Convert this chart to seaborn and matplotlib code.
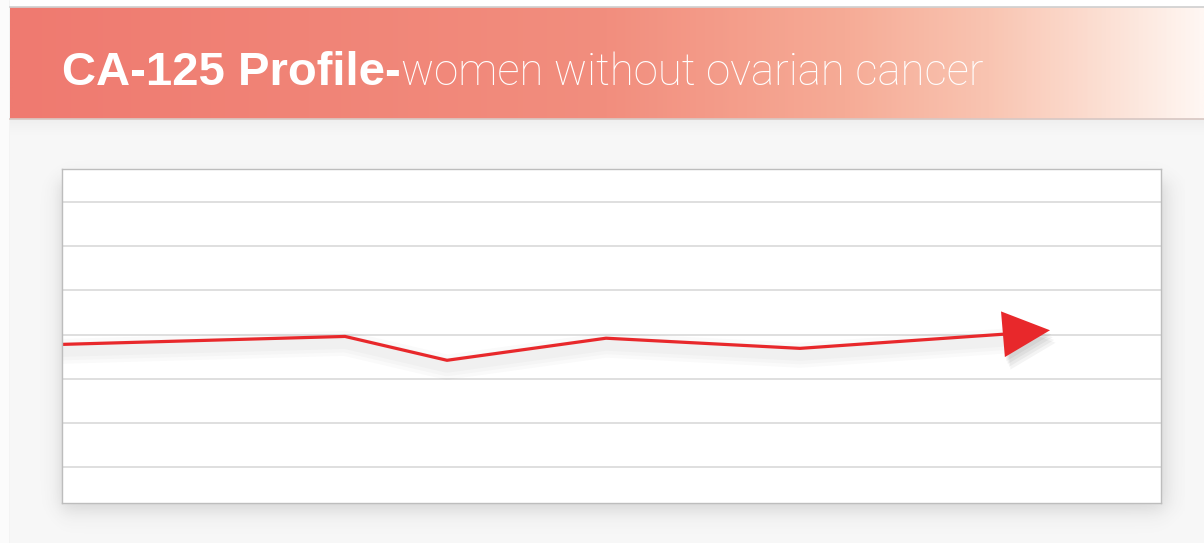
import numpy as np
import matplotlib
matplotlib.use("Agg")
import matplotlib.pyplot as plt
import matplotlib.patheffects as pe
from matplotlib.colors import LinearSegmentedColormap
import seaborn as sns

# -----------------------------
# DATA
# -----------------------------
title_bold = "CA-125 Profile-"
title_light = "women without ovarian cancer"
x_pos = [0.0, 2.83, 3.85, 5.44, 7.38, 9.41]
ca125 = [3.78, 3.96, 3.42, 3.92, 3.69, 4.01]
arrow_tip = (9.88, 4.10)
grid_levels = [1, 2, 3, 4, 5, 6, 7]

# -----------------------------
# STYLE
# -----------------------------
sns.set_theme(style="white")
plt.rcParams["font.family"] = ["Liberation Sans", "DejaVu Sans"]

W, H = 1204, 543
BG = "#F7F7F7"
RED = "#E8282B"


def px_rect(x0, y0, x1, y1):
    return [x0 / W, 1 - y1 / H, (x1 - x0) / W, (y1 - y0) / H]


fig = plt.figure(figsize=(W / 100, H / 100), dpi=100, facecolor=BG)

# white strips at top / left
strip = fig.add_axes(px_rect(0, 0, W, 8), zorder=0)
strip.axis("off")
strip.add_patch(plt.Rectangle((0, 0), 1, 1, color="white", transform=strip.transAxes))
lstrip = fig.add_axes(px_rect(0, 0, 10, H), zorder=0)
lstrip.axis("off")
lstrip.add_patch(plt.Rectangle((0, 0), 1, 1, color="#FBFBFB", transform=lstrip.transAxes))
lstrip.axvline(0.95, color="#D4D4D4", lw=1)

# -----------------------------
# HEADER
# -----------------------------
hdr_cmap = LinearSegmentedColormap.from_list(
    "hdr",
    [(0.0, "#EF7A70"), (0.5, "#F28E7E"), (0.70, "#F6AB96"),
     (0.82, "#F9C4B1"), (0.92, "#FCE0D4"), (1.0, "#FFF7F3")],
)
hdr_shadow = fig.add_axes(px_rect(10, 118, W, 138), zorder=1)
shade = np.zeros((40, 2, 4))
shade[..., :3] = 0.5
shade[..., 3] = np.linspace(0.18, 0.0, 40)[:, None] ** 1.5
hdr_shadow.imshow(shade, aspect="auto", extent=[0, 1, 0, 1])
hdr_shadow.axis("off")

hdr = fig.add_axes(px_rect(10, 7, W, 119), zorder=2)
hdr.imshow(np.linspace(0, 1, 512)[None, :], aspect="auto", cmap=hdr_cmap,
           extent=[0, 1, 0, 1])
hdr.set_xlim(0, 1)
hdr.set_ylim(0, 1)
for s in hdr.spines.values():
    s.set_visible(False)
hdr.spines["top"].set_visible(True)
hdr.spines["top"].set_color("#D0D0D0")
hdr.spines["bottom"].set_visible(True)
hdr.spines["bottom"].set_color("#D9C8C4")
hdr.set_xticks([])
hdr.set_yticks([])

t1 = fig.text(62 / W, 1 - 85 / H, title_bold, fontsize=34, weight="bold",
              color="white", va="baseline", ha="left", zorder=5)
hdr.annotate(title_light, xy=(1, H - 85), xycoords=(t1, "figure pixels"),
             fontsize=31.5, color="white", va="baseline", ha="left",
             family=["Roboto", "DejaVu Sans"], weight="light",
             annotation_clip=False, zorder=5)

# -----------------------------
# PLOT BOX SHADOW
# -----------------------------
sh = fig.add_axes(px_rect(40, 160, 1185, 535), zorder=1)
xx = np.linspace(40, 1185, 600)
yy = np.linspace(160, 535, 300)
fx = 1 / (1 + np.exp(-(xx - 60) / 5)) * 1 / (1 + np.exp((xx - 1166) / 6))
fy = 1 / (1 + np.exp(-(yy - 180) / 5)) * 1 / (1 + np.exp((yy - 510) / 6))
rgba = np.zeros((300, 600, 4))
rgba[..., :3] = 0.3
rgba[..., 3] = 0.22 * fy[:, None] * fx[None, :]
sh.imshow(rgba, aspect="auto", extent=[0, 1, 0, 1])
sh.axis("off")

# -----------------------------
# MAIN CHART
# -----------------------------
ax = fig.add_axes(px_rect(62, 169, 1161, 503), zorder=3)
ax.set_facecolor("white")
ax.set_xlim(0, 10.99)
ax.set_ylim(0.19, 7.75)
ax.set_yticks(grid_levels)
ax.set_xticks([])
ax.grid(axis="y", color="#D9D9D9", lw=1.2)
ax.grid(axis="x", visible=False)
ax.tick_params(length=0, labelleft=False, labelbottom=False)
for s in ax.spines.values():
    s.set_visible(True)
    s.set_color("#BDBDBD")
    s.set_linewidth(1)

shadow_fx = [pe.SimpleLineShadow(offset=(0, -5), shadow_color="black",
                                 alpha=0.02, linewidth=w) for w in (18, 13, 8)]
sns.lineplot(x=x_pos, y=ca125, color=RED, lw=2.3, ax=ax,
             path_effects=shadow_fx + [pe.Normal()])

head_shadow = [pe.SimplePatchShadow(offset=o, shadow_rgbFace="black", alpha=0.045)
               for o in [(1, -3), (2, -5), (3, -7), (4, -9)]]
ax.annotate("", xy=arrow_tip, xytext=(x_pos[-1], ca125[-1]),
            arrowprops=dict(arrowstyle="-|>,head_length=3.4,head_width=1.65",
                            color=RED, lw=0, mutation_scale=10,
                            shrinkA=0, shrinkB=0,
                            path_effects=head_shadow + [pe.Normal()]))

fig.savefig("out.png", dpi=100, facecolor=BG)
